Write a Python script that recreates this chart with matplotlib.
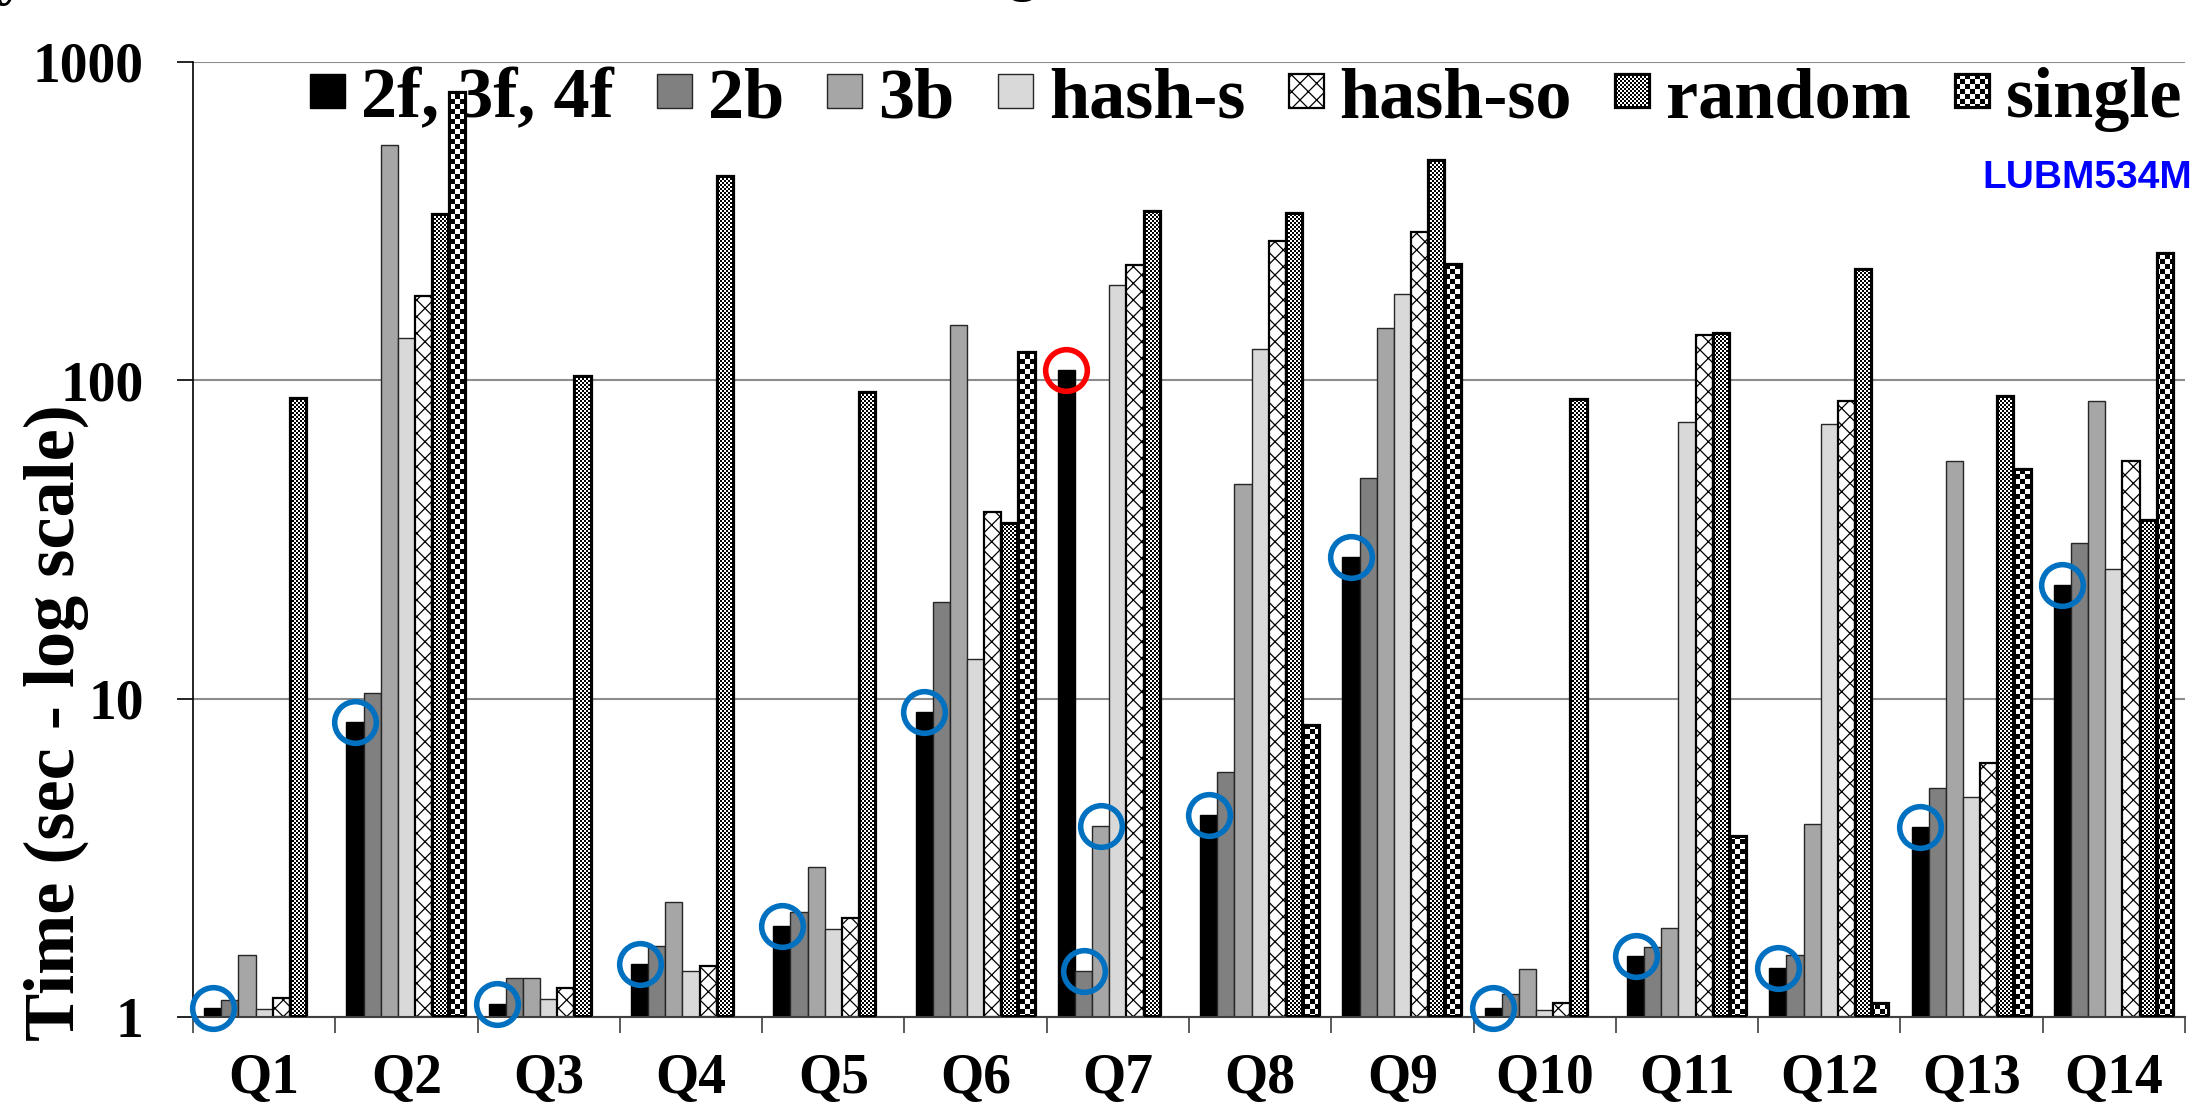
import numpy as np
import matplotlib
matplotlib.use('Agg')
import matplotlib.pyplot as plt
from matplotlib.ticker import FixedLocator, FixedFormatter, NullLocator

# --- data (seconds, log scale) ---
queries = [f'Q{i}' for i in range(1, 15)]
series_names = ['2f, 3f, 4f', '2b', '3b', 'hash-s', 'hash-so', 'random', 'single']

nan = np.nan
t_2f      = [1.07, 8.45, 1.10, 1.47, 1.93, 9.09, 107.7, 4.31, 27.8, 1.07, 1.55, 1.43, 3.96, 22.7]
t_2b      = [1.13, 10.4, 1.33, 1.67, 2.13, 20.1, 1.39, 5.89, 49.4, 1.18, 1.66, 1.57, 5.23, 30.8]
t_3b      = [1.57, 550, 1.33, 2.30, 2.96, 149, 3.98, 47.3, 146, 1.42, 1.91, 4.03, 55.7, 86.3]
t_hash_s  = [1.06, 136, 1.14, 1.39, 1.89, 13.3, 200, 125, 187, 1.05, 74.1, 73.0, 4.90, 25.5]
t_hash_so = [1.15, 184, 1.23, 1.45, 2.04, 38.5, 230, 274, 293, 1.11, 139, 86.3, 6.26, 55.7]
t_random  = [88.0, 333, 103, 440, 92.0, 35.6, 340, 335, 491, 87.5, 141, 224, 89.2, 36.4]
t_single  = [nan, 803, nan, nan, nan, 123, nan, 8.26, 232, nan, 3.71, 1.11, 52.7, 252]

# circled bars: (query index, series index)
blue_marks = [(0, 0), (1, 0), (2, 0), (3, 0), (4, 0), (5, 0), (6, 1), (6, 2),
              (7, 0), (8, 0), (9, 0), (10, 0), (11, 0), (12, 0), (13, 0)]
red_marks = [(6, 0)]

# --- style ---
W, H, DPI = 2190, 1114, 100
plt.rcParams['font.family'] = 'Liberation Serif'
plt.rcParams['font.weight'] = 'bold'
plt.rcParams['hatch.linewidth'] = 0.9

fig = plt.figure(figsize=(W / DPI, H / DPI), dpi=DPI)
ax = fig.add_axes([193 / W, 1 - 1017 / H, 1992 / W, 955 / H])

series = [t_2f, t_2b, t_3b, t_hash_s, t_hash_so, t_random, t_single]
styles = [
    dict(facecolor='#000000', edgecolor='#000000', linewidth=1.0),
    dict(facecolor='#808080', edgecolor='#262626', linewidth=1.0),
    dict(facecolor='#a6a6a6', edgecolor='#262626', linewidth=1.0),
    dict(facecolor='#d9d9d9', edgecolor='#262626', linewidth=1.0),
    dict(facecolor='white', edgecolor='black', hatch='xx', linewidth=1.6),
    dict(facecolor='white', edgecolor='black', linewidth=1.6),
    dict(facecolor='white', edgecolor='black', linewidth=1.6),
]
# checker cell size (px) for the pattern-filled series
checker_cell = {5: 2, 6: 5}

x = np.arange(len(queries))
bw = 0.1205
containers = []
for k, (vals, st, name) in enumerate(zip(series, styles, series_names)):
    v = np.array(vals, dtype=float)
    c = ax.bar(x + (k - 3) * bw, v - 1, bottom=1, width=bw, label=name, zorder=2, **st)
    containers.append(c)

for marks, col in [(blue_marks, '#0070c0'), (red_marks, '#ff0000')]:
    for qi, si in marks:
        ax.plot(qi + (si - 3) * bw, series[si][qi], 'o', ms=30, mfc='none', mec=col,
                mew=4, zorder=4, clip_on=False)

ax.set_yscale('log')
ax.set_ylim(1, 1000)
ax.set_xlim(-0.5, len(queries) - 0.5)
ax.yaxis.set_major_locator(FixedLocator([1, 10, 100, 1000]))
ax.yaxis.set_major_formatter(FixedFormatter(['1', '10', '100', '1000']))
ax.yaxis.set_minor_locator(NullLocator())
ax.set_xticks(np.arange(len(queries) + 1) - 0.5)
ax.set_xticklabels([])
ax.set_xticks(x, queries, minor=True)
ax.tick_params(axis='x', which='major', length=11.5, width=1.2, color='#404040')
ax.tick_params(axis='x', which='minor', length=0, pad=26, labelsize=40)
ax.tick_params(axis='y', which='major', length=11.5, width=1.2, pad=24, labelsize=40)
ax.grid(axis='y', color='#8c8c8c', linewidth=1.5)
ax.set_axisbelow(True)
for s in ['top', 'right']:
    ax.spines[s].set_visible(False)
ax.spines['left'].set_linewidth(1.2)
ax.spines['bottom'].set_linewidth(1.5)
ax.spines['bottom'].set_color('#404040')

fig.text(56 / W, 1 - 723 / H, 'Time (sec - log scale)', rotation=90,
         ha='center', va='center', fontsize=52, fontweight='bold')
fig.text(2192 / W, 1 - 178 / H, 'LUBM534M', color='#0000ff', fontsize=28,
         family='Liberation Sans', weight='bold', ha='right', va='center')
# cropped caption fragments at the top edge
fig.text(-2 / W, 1 + 6 / H, 'y', fontsize=40, ha='left', va='baseline')
fig.text(1008 / W, 1 + 10 / H, 'g', fontsize=40, ha='left', va='baseline')

leg = ax.legend(handles=containers, ncol=7, loc='upper right',
                bbox_to_anchor=(2182 / W, 1 - 67 / H), bbox_transform=fig.transFigure,
                frameon=False, fontsize=52, handlelength=0.485, handleheight=0.35,
                handletextpad=0.22, columnspacing=0.6, borderpad=0, borderaxespad=0)
leg.set_zorder(5)

# fill the checker-patterned bars and legend keys pixel by pixel
fig.canvas.draw()
renderer = fig.canvas.get_renderer()


def checker_fill(bb, cell, border=2):
    x0, y0 = int(round(bb.x0)), int(round(bb.y0))
    x1, y1 = int(round(bb.x1)), int(round(bb.y1))
    w, h = x1 - x0, y1 - y0
    if w <= 0 or h <= 0:
        return
    X = np.arange(x0, x1)
    Y = np.arange(y0, y1)
    arr = ((X[None, :] // cell + Y[:, None] // cell) % 2).astype(float)
    b = min(border, h // 2, w // 2)
    if b > 0:
        arr[:b, :] = 0
        arr[-b:, :] = 0
        arr[:, :b] = 0
        arr[:, -b:] = 0
    fig.figimage(arr, xo=x0, yo=y0, cmap='gray', vmin=0, vmax=1, origin='lower', zorder=3)


for k, cell in checker_cell.items():
    for p in containers[k].patches:
        if not np.isfinite(p.get_height()):
            continue
        checker_fill(p.get_window_extent(renderer), cell)
    checker_fill(leg.legend_handles[k].get_window_extent(renderer), cell)

fig.savefig('out.png', dpi=DPI)
